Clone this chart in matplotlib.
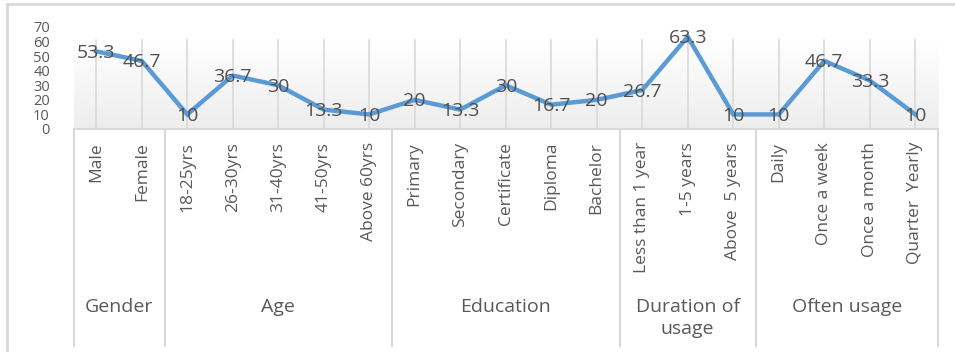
import numpy as np
import matplotlib
matplotlib.use("Agg")
import matplotlib.pyplot as plt
from matplotlib.colors import LinearSegmentedColormap
from matplotlib.lines import Line2D
from matplotlib.transforms import blended_transform_factory

plt.rcParams["font.family"] = ["Open Sans", "DejaVu Sans"]

# ─────────────────────────────────────────────
categories = ["Male", "Female",
              "18-25yrs", "26-30yrs", "31-40yrs", "41-50yrs", "Above 60yrs",
              "Primary", "Secondary", "Certificate", "Diploma", "Bachelor",
              "Less than 1 year", "1-5 years", "Above  5 years",
              "Daily", "Once a week", "Once a month", "Quarter  Yearly"]
values = [53.3, 46.7,
          10, 36.7, 30, 13.3, 10,
          20, 13.3, 30, 16.7, 20,
          26.7, 63.3, 10,
          10, 46.7, 33.3, 10]
value_labels = ["53.3", "46.7", "10", "36.7", "30", "13.3", "10",
                "20", "13.3", "30", "16.7", "20", "26.7", "63.3", "10",
                "10", "46.7", "33.3", "10"]
groups = ["Gender", "Age", "Education", "Duration of\nusage", "Often usage"]
group_sizes = [2, 5, 5, 3, 4]
yticks = [0, 10, 20, 30, 40, 50, 60, 70]

LINE_COLOR = "#5B9BD5"
TEXT_COLOR = "#595959"
GRID_COLOR = "#D9D9D9"

W, H = 955, 352
fig = plt.figure(figsize=(W / 100, H / 100), dpi=100)


def fy(px):
    # pixel row (from top) -> figure fraction
    return 1 - px / H


ax_left, ax_right = 73.5 / W, 938 / W
ax_bottom, ax_top = fy(129), fy(27)
ax = fig.add_axes([ax_left, ax_bottom, ax_right - ax_left, ax_top - ax_bottom])

x = np.arange(len(categories))
ax.set_xlim(-0.5, len(categories) - 0.5)
ax.set_ylim(0, 70)

# gradient plot area + vertical grid
grad_top = 61
cmap = LinearSegmentedColormap.from_list("g", ["#FFFFFF", "#EDEDED"])
grad = np.linspace(0, 1, 100).reshape(-1, 1)
ax.imshow(grad, cmap=cmap, aspect="auto", origin="upper",
          extent=[-0.5, len(categories) - 0.5, 0, grad_top], zorder=0)
for xi in x:
    ax.plot([xi, xi], [0, grad_top], color=GRID_COLOR, lw=1.2, zorder=1)

ax.plot(x, values, color=LINE_COLOR, lw=3.2, solid_joinstyle="miter", zorder=3)
for xi, v, lab in zip(x, values, value_labels):
    ax.text(xi, v - 1, lab, ha="center", va="center", fontsize=14,
            color="#505050", zorder=4)

for s in ["top", "right", "left"]:
    ax.spines[s].set_visible(False)
ax.spines["bottom"].set_color(GRID_COLOR)
ax.spines["bottom"].set_linewidth(1.5)
ax.set_xticks([])
ax.set_yticks(yticks)
ax.set_yticklabels([str(t) for t in yticks], fontsize=10.5, color=TEXT_COLOR)
ax.tick_params(axis="y", length=0, pad=17)

# hierarchical category axis
tr = blended_transform_factory(ax.transData, fig.transFigure)
for xi, lab in zip(x, categories):
    ax.text(xi, fy(142), lab, transform=tr, rotation=90, ha="center", va="top",
            fontsize=12.5, color=TEXT_COLOR)

edges = np.concatenate([[0], np.cumsum(group_sizes)]) - 0.5
for e in edges:
    ax.add_line(Line2D([e, e], [fy(129), fy(346)], transform=tr, color=GRID_COLOR,
                       lw=1.5, clip_on=False))
for g, a, b in zip(groups, edges[:-1], edges[1:]):
    ax.text((a + b) / 2, fy(298), g, transform=tr, ha="center", va="top",
            fontsize=14, color=TEXT_COLOR, linespacing=1.3)

# outer chart frame (top and left edges visible)
fig.add_artist(Line2D([7 / W, 1], [fy(4), fy(4)], color=GRID_COLOR, lw=2))
fig.add_artist(Line2D([7 / W, 7 / W], [fy(4), 0], color=GRID_COLOR, lw=2))

fig.savefig("out.png", dpi=100)
